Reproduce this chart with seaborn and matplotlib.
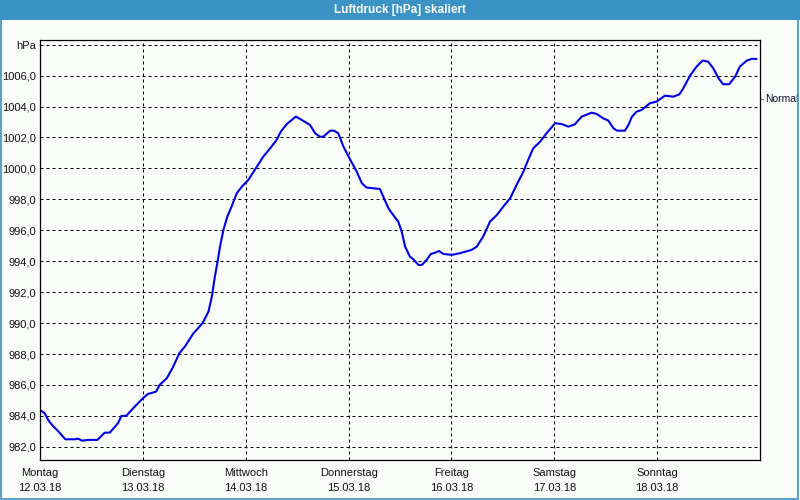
import matplotlib
matplotlib.use("Agg")
import matplotlib.pyplot as plt
import matplotlib.patches as mpatches
import matplotlib.transforms as mtransforms
import seaborn as sns
import pandas as pd

# ---- data ----
hours = [0.2, 1.1, 1.9, 3.0, 4.2, 5.9, 8.1, 8.9, 9.8, 11.2, 13.4, 15.1, 16.3, 18.2, 19.0,
         20.1, 22.1, 24.0, 25.2, 27.1, 27.9, 29.6, 31.1, 32.5, 33.8, 35.8, 36.9, 38.0, 39.3,
         40.1, 40.8, 41.5, 42.0, 42.8, 43.7, 44.7, 45.9, 47.1, 48.6, 50.6, 52.1, 53.7, 55.2,
         56.2, 57.6, 59.7, 61.1, 63.0, 64.2, 65.3, 66.1, 67.7, 68.6, 69.6, 70.8, 72.3, 73.9,
         75.1, 76.2, 79.3, 80.1, 81.3, 82.4, 83.6, 84.4, 85.2, 86.3, 87.1, 88.3, 89.1, 90.2,
         91.2, 92.2, 93.1, 94.1, 96.1, 98.0, 100.7, 101.9, 103.4, 105.0, 106.6, 108.1, 109.7,
         111.2, 112.8, 113.9, 115.1, 116.7, 118.2, 120.2, 121.7, 123.3, 124.8, 126.4, 128.7,
         129.9, 131.4, 132.6, 133.8, 134.6, 136.5, 137.3, 138.1, 139.2, 140.4, 142.3, 143.9,
         145.8, 147.8, 149.2, 150.1, 151.7, 153.2, 154.6, 155.9, 157.1, 158.3, 159.4, 160.8,
         162.2, 163.3, 164.9, 166.1, 167.2]
hpa = [984.34, 984.17, 983.74, 983.35, 983.03, 982.49, 982.49, 982.53, 982.40, 982.45, 982.45,
       982.92, 982.92, 983.53, 984.00, 984.00, 984.60, 985.14, 985.42, 985.57, 986.00, 986.44,
       987.19, 988.05, 988.48, 989.34, 989.67, 990.03, 990.74, 991.71, 993.00, 994.08, 994.94,
       996.02, 996.88, 997.53, 998.39, 998.82, 999.25, 1000.11, 1000.76, 1001.30, 1001.84,
       1002.38, 1002.87, 1003.35, 1003.13, 1002.81, 1002.27, 1002.05, 1002.05, 1002.44,
       1002.44, 1002.27, 1001.41, 1000.61, 999.79, 999.04, 998.76, 998.67, 998.17, 997.42,
       996.99, 996.56, 995.91, 994.94, 994.30, 994.13, 993.76, 993.76, 994.08, 994.47, 994.55,
       994.66, 994.47, 994.41, 994.52, 994.73, 994.94, 995.59, 996.56, 996.99, 997.53, 998.07,
       998.93, 999.79, 1000.55, 1001.30, 1001.73, 1002.27, 1002.92, 1002.87, 1002.70, 1002.85,
       1003.35, 1003.60, 1003.52, 1003.24, 1003.09, 1002.60, 1002.44, 1002.44, 1002.81,
       1003.33, 1003.67, 1003.78, 1004.21, 1004.32, 1004.70, 1004.64, 1004.79, 1005.18,
       1006.00, 1006.58, 1006.97, 1006.90, 1006.47, 1005.83, 1005.44, 1005.44, 1005.93,
       1006.58, 1006.97, 1007.08, 1007.08]

day_names = ["Montag", "Dienstag", "Mittwoch", "Donnerstag", "Freitag", "Samstag", "Sonntag"]
day_dates = ["12.03.18", "13.03.18", "14.03.18", "15.03.18", "16.03.18", "17.03.18", "18.03.18"]
day_hours = [0, 24, 48, 72, 96, 120, 144]
y_ticks = [982, 984, 986, 988, 990, 992, 994, 996, 998, 1000, 1002, 1004, 1006, 1008]
normal_value = 1004.5
title = "Luftdruck [hPa] skaliert"

df = pd.DataFrame({"Stunde": hours, "hPa": hpa})

# ---- figure ----
sns.set_theme(style="white")
plt.rcParams['font.family'] = ['Liberation Sans', 'DejaVu Sans']
bg = "#fafcfa"
fig = plt.figure(figsize=(8, 5), dpi=100, facecolor=bg)
ax = fig.add_axes([0.05, 0.08, 0.90, 0.84])
ax.set_facecolor(bg)

sns.lineplot(data=df, x="Stunde", y="hPa", ax=ax, color="#0000e6", linewidth=1.5)

ax.set_xlim(0, 168)
ax.set_ylim(981.15, 1008.3)
ax.set_xticks(day_hours)
ax.set_xticklabels([f"{n}\n{d}" for n, d in zip(day_names, day_dates)],
                   fontsize=8, linespacing=1.55)
ax.set_yticks(y_ticks)
ax.set_yticklabels([f"{v:.1f}".replace(".", ",") if v != 1008 else "hPa" for v in y_ticks],
                   fontsize=8)
ax.tick_params(axis="both", length=0, pad=3, colors="#111111")
ax.tick_params(axis="x", pad=6)
ax.set_xlabel("")
ax.set_ylabel("")
ax.grid(True, color="black", linestyle=(0, (3, 3)), linewidth=0.72)
for s in ax.spines.values():
    s.set_color("black")
    s.set_linewidth(0.9)

# Normal marker on right side
trans = mtransforms.blended_transform_factory(ax.transAxes, ax.transData)
ax.plot([1.0, 1.006], [normal_value, normal_value], transform=trans, color="black",
        linewidth=0.72, linestyle=(0, (1, 1)), clip_on=False)
ax.text(1.0065, normal_value, "Normal", transform=trans, fontsize=7.5, va="center",
        ha="left", color="#111133")

# title bar and frame
fig.patches.append(mpatches.Rectangle((0, 0.96), 1, 0.04, transform=fig.transFigure,
                                      facecolor="#3b92c5", edgecolor="none", zorder=0))
fig.text(0.5, 0.98, title, ha="center", va="center", color="white", fontsize=8.5,
         fontweight="bold")
fig.patches.append(mpatches.Rectangle((0.001, 0.003), 0.997, 0.96, transform=fig.transFigure,
                                      facecolor="none", edgecolor="#3b92c5", linewidth=1.2))

fig.savefig("out.png", dpi=100, facecolor=bg)
